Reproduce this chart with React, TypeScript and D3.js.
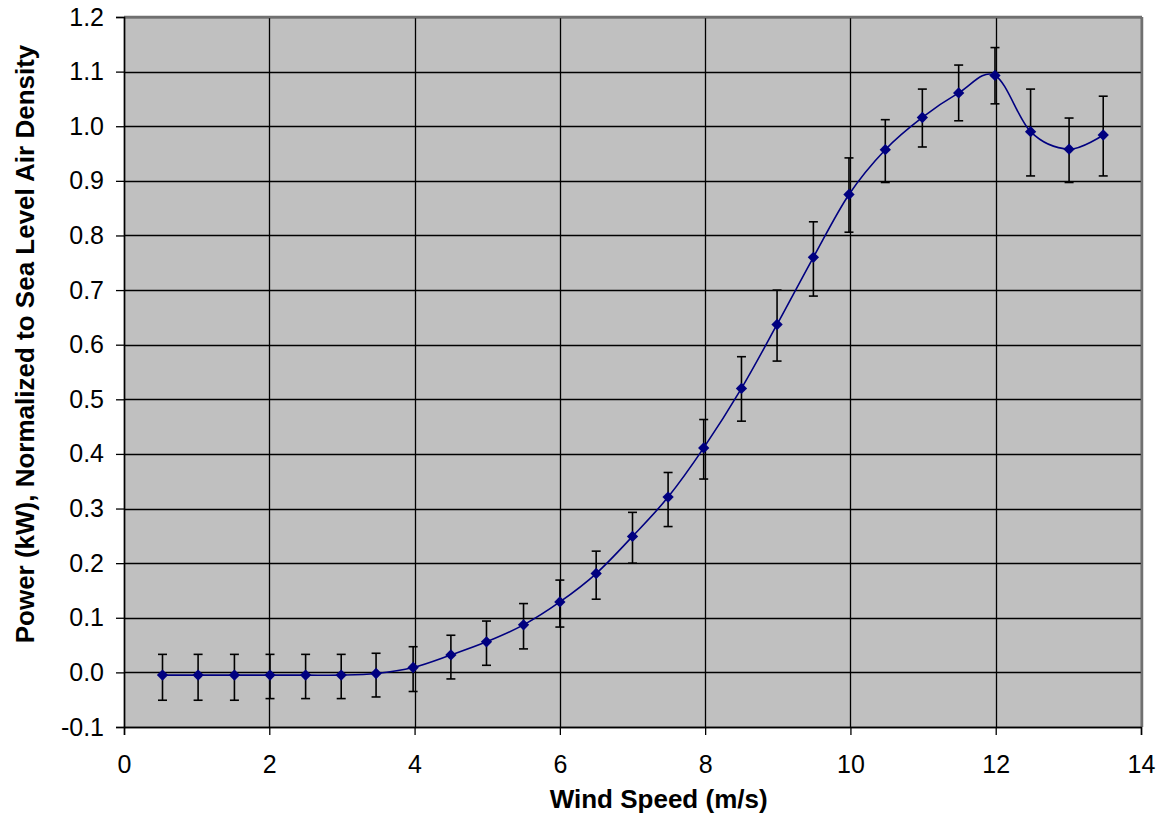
import { useEffect, useRef } from "react";
import * as d3 from "d3";

const speeds = [0.53, 1.02, 1.52, 2.01, 2.5, 2.99, 3.47, 3.98, 4.5, 4.99, 5.5, 6.0, 6.5, 7.0, 7.49, 7.98, 8.5, 8.99, 9.49, 9.98, 10.48, 10.99, 11.49, 11.99, 12.48, 13.01, 13.48];
const power = [-0.005, -0.005, -0.005, -0.005, -0.005, -0.005, -0.002, 0.009, 0.032, 0.056, 0.087, 0.129, 0.181, 0.249, 0.321, 0.411, 0.52, 0.637, 0.76, 0.875, 0.957, 1.016, 1.061, 1.093, 0.99, 0.958, 0.984];
const upper = [0.033, 0.033, 0.033, 0.033, 0.033, 0.033, 0.035, 0.047, 0.068, 0.094, 0.126, 0.169, 0.222, 0.293, 0.366, 0.463, 0.578, 0.7, 0.825, 0.942, 1.012, 1.068, 1.112, 1.144, 1.068, 1.015, 1.055];
const lower = [-0.051, -0.051, -0.051, -0.048, -0.048, -0.048, -0.045, -0.035, -0.012, 0.013, 0.043, 0.083, 0.134, 0.2, 0.267, 0.354, 0.46, 0.57, 0.689, 0.806, 0.897, 0.962, 1.01, 1.041, 0.909, 0.897, 0.909];
const xTicks = [0, 2, 4, 6, 8, 10, 12, 14];
const yTicks = [-0.1, 0, 0.1, 0.2, 0.3, 0.4, 0.5, 0.6, 0.7, 0.8, 0.9, 1.0, 1.1, 1.2];

const W = 1162;
const H = 815;
const margin = { top: 17, right: 21, bottom: 88, left: 124 };
const innerW = W - margin.left - margin.right;
const innerH = H - margin.top - margin.bottom;
const font = "'Liberation Sans', Arial, sans-serif";

export default function App() {
  const ref = useRef<SVGSVGElement>(null);

  useEffect(() => {
    if (!ref.current) return;
    const svg = d3.select(ref.current);
    svg.selectAll("*").remove();

    const x = d3.scaleLinear().domain([0, 14]).range([0, innerW]);
    const y = d3.scaleLinear().domain([-0.1, 1.2]).range([innerH, 0]);

    const g = svg.append("g").attr("transform", `translate(${margin.left},${margin.top})`);

    // plot background
    g.append("rect").attr("width", innerW).attr("height", innerH).attr("fill", "#c0c0c0");

    // grid
    g.selectAll(".hgrid")
      .data(yTicks)
      .join("line")
      .attr("x1", 0)
      .attr("x2", innerW)
      .attr("y1", (d) => Math.round(y(d)) + 0.5)
      .attr("y2", (d) => Math.round(y(d)) + 0.5)
      .attr("stroke", "#000")
      .attr("stroke-width", 1.3);
    g.selectAll(".vgrid")
      .data(xTicks)
      .join("line")
      .attr("y1", 0)
      .attr("y2", innerH)
      .attr("x1", (d) => Math.round(x(d)) + 0.5)
      .attr("x2", (d) => Math.round(x(d)) + 0.5)
      .attr("stroke", "#000")
      .attr("stroke-width", 1.3);

    // top / right frame
    g.append("line").attr("x1", 0).attr("x2", innerW + 1).attr("y1", 0).attr("y2", 0).attr("stroke", "#707070").attr("stroke-width", 2.5);
    g.append("line").attr("x1", innerW + 1).attr("x2", innerW + 1).attr("y1", 0).attr("y2", innerH).attr("stroke", "#707070").attr("stroke-width", 2.5);

    // axes
    const fmtY = (d: d3.NumberValue) => d3.format(".1f")(+d).replace("−", "-");
    const yAxis = g.append("g").call(
      d3.axisLeft(y).tickValues(yTicks).tickSize(8).tickPadding(12).tickFormat(fmtY)
    );
    const xAxis = g
      .append("g")
      .attr("transform", `translate(0,${innerH})`)
      .call(d3.axisBottom(x).tickValues(xTicks).tickSize(8).tickPadding(20).tickFormat(d3.format("d")));
    [yAxis, xAxis].forEach((a) => {
      a.select(".domain").attr("stroke", "#000").attr("stroke-width", 1.5);
      a.selectAll(".tick line").attr("stroke", "#000").attr("stroke-width", 1.3);
      a.selectAll(".tick text").attr("font-family", font).attr("font-size", 25).attr("fill", "#000");
    });

    // error bars
    const eb = g.append("g").attr("stroke", "#000").attr("stroke-width", 1.6);
    speeds.forEach((s, i) => {
      const cx = x(s);
      eb.append("line").attr("x1", cx).attr("x2", cx).attr("y1", y(upper[i])).attr("y2", y(lower[i]));
      eb.append("line").attr("x1", cx - 4.5).attr("x2", cx + 4.5).attr("y1", y(upper[i])).attr("y2", y(upper[i]));
      eb.append("line").attr("x1", cx - 4.5).attr("x2", cx + 4.5).attr("y1", y(lower[i])).attr("y2", y(lower[i]));
    });

    // smoothed line
    const pts = speeds.map((s, i) => [s, power[i]] as [number, number]);
    const line = d3
      .line<[number, number]>()
      .x((d) => x(d[0]))
      .y((d) => y(d[1]))
      .curve(d3.curveCardinal.tension(0));
    g.append("path").datum(pts).attr("d", line).attr("fill", "none").attr("stroke", "#000080").attr("stroke-width", 1.6);

    // markers
    const diamond = d3.symbol().type(d3.symbolSquare).size(64);
    g.selectAll(".pt")
      .data(pts)
      .join("path")
      .attr("d", diamond)
      .attr("transform", (d) => `translate(${x(d[0])},${y(d[1])}) rotate(45)`)
      .attr("fill", "#000080");

    // titles
    svg
      .append("text")
      .attr("x", margin.left + x(7.36))
      .attr("y", 808)
      .attr("text-anchor", "middle")
      .attr("font-family", font)
      .attr("font-weight", "bold")
      .attr("font-size", 26)
      .text("Wind Speed (m/s)");
    svg
      .append("text")
      .attr("transform", `translate(34,344) rotate(-90)`)
      .attr("text-anchor", "middle")
      .attr("font-family", font)
      .attr("font-weight", "bold")
      .attr("font-size", 26)
      .text("Power (kW), Normalized to Sea Level Air Density");
  }, []);

  return <svg ref={ref} width={W} height={H} style={{ position: "absolute", left: 0, top: 0, background: "#fff" }} />;
}
